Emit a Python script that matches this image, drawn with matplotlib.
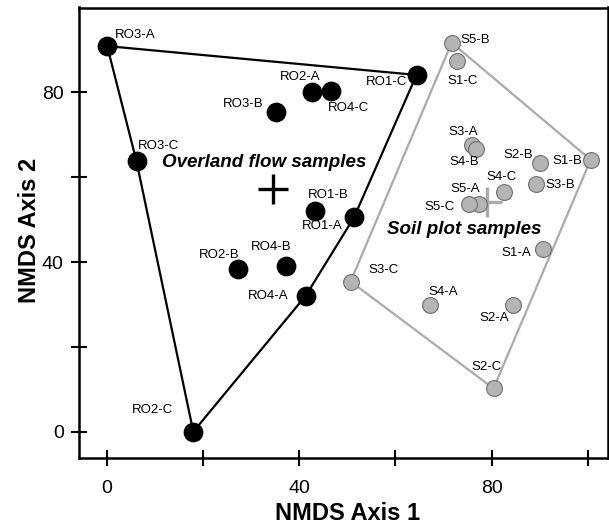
import matplotlib
matplotlib.use("Agg")
import matplotlib.pyplot as plt

plt.rcParams['font.family'] = ['Liberation Sans', 'DejaVu Sans']

# overland flow samples (black)
ro_labels = ["RO3-A", "RO2-A", "RO4-C", "RO3-B", "RO1-C", "RO3-C",
             "RO1-B", "RO1-A", "RO2-B", "RO4-B", "RO4-A", "RO2-C"]
ro_x = [0.1, 42.7, 46.6, 35.1, 64.4, 6.2, 43.3, 51.4, 27.2, 37.2, 41.4, 18.0]
ro_y = [90.9, 80.0, 80.4, 75.3, 84.1, 63.7, 52.1, 50.5, 38.4, 39.1, 32.1, 0.0]
ro_hull = ["RO3-A", "RO1-C", "RO1-A", "RO4-A", "RO2-C", "RO3-C", "RO3-A"]
ro_centroid = (34.5, 57.2)

# soil plot samples (grey)
s_labels = ["S5-B", "S1-C", "S3-A", "S4-B", "S2-B", "S1-B", "S3-B", "S4-C",
            "S5-A", "S5-C", "S1-A", "S3-C", "S4-A", "S2-A", "S2-C"]
s_x = [71.7, 72.8, 76.0, 76.7, 90.1, 100.6, 89.3, 82.6, 77.3, 75.4, 90.6,
       50.7, 67.2, 84.5, 80.4]
s_y = [91.7, 87.3, 67.5, 66.7, 63.3, 64.1, 58.4, 56.6, 53.7, 53.7, 43.0,
       35.4, 29.9, 29.9, 10.2]
s_hull = ["S5-B", "S1-B", "S2-C", "S3-C", "S5-B"]
s_centroid = (79.0, 54.2)

# label placement: offset in pixels + horizontal alignment
label_pos = {
    "RO3-A": (8, 11, "left"), "RO2-A": (-12, 15.6, "center"),
    "RO4-C": (17.5, -17.3, "center"), "RO3-B": (-12.4, 8.3, "right"),
    "RO1-C": (-9, -6.7, "right"), "RO3-C": (1.6, 15, "left"),
    "RO1-B": (13.7, 15.7, "center"), "RO1-A": (-11.7, -9, "right"),
    "RO2-B": (2, 13.7, "right"), "RO4-B": (-14.7, 19.3, "center"),
    "RO4-A": (-17, 0, "right"), "RO2-C": (-20, 21.7, "right"),
    "S5-B": (9, 2.7, "left"), "S1-C": (5.6, -20, "center"),
    "S3-A": (-9, 13, "center"), "S4-B": (-11.4, -13.7, "center"),
    "S2-B": (-6.7, 8.3, "right"), "S1-B": (-9, -1, "right"),
    "S3-B": (9, -1, "left"), "S4-C": (-2.3, 15, "center"),
    "S5-A": (-13, 15, "center"), "S5-C": (-14.3, -3.3, "right"),
    "S1-A": (-11, -4, "right"), "S3-C": (17.6, 11.7, "left"),
    "S4-A": (13.3, 12.7, "center"), "S2-A": (-4.3, -12.7, "right"),
    "S2-C": (-6.6, 21.7, "center"),
}

fig = plt.figure(figsize=(6.09, 5.26), dpi=100)
ax = fig.add_axes([79 / 609, 1 - 458.3 / 526, 529 / 609, 450.8 / 526])

# hulls
hx = [ro_x[ro_labels.index(l)] for l in ro_hull]
hy = [ro_y[ro_labels.index(l)] for l in ro_hull]
ax.plot(hx, hy, color='black', lw=1.6, zorder=2)
gx = [s_x[s_labels.index(l)] for l in s_hull]
gy = [s_y[s_labels.index(l)] for l in s_hull]
ax.plot(gx, gy, color='#aaaaaa', lw=1.6, zorder=2)

# centroids
ax.plot(*ro_centroid, marker='+', ms=21, mew=2.4, color='black', zorder=3)
ax.plot(*s_centroid, marker='+', ms=21, mew=2.4, color='#aaaaaa', zorder=3)

ax.scatter(ro_x, ro_y, s=175, color='black', zorder=4)
ax.scatter(s_x, s_y, s=130, facecolor='#b4b4b4', edgecolor='#6e6e6e',
           linewidth=0.8, zorder=4)

for lab, x, y in list(zip(ro_labels, ro_x, ro_y)) + list(zip(s_labels, s_x, s_y)):
    dx, dy, ha = label_pos[lab]
    ax.annotate(lab, (x, y), xytext=(dx, dy), textcoords='offset pixels',
                ha=ha, va='center', fontsize=9.5, zorder=5)

ax.text(32.7, 63.5, "Overland flow samples", fontsize=13.5, fontweight='bold',
        fontstyle='italic', ha='center', va='center')
ax.text(74.3, 47.6, "Soil plot samples", fontsize=13.5, fontweight='bold',
        fontstyle='italic', ha='center', va='center')

ax.set_xlim(-5.76, 104.2)
ax.set_ylim(-6.27, 100.0)
ax.set_xticks([0, 40, 80])
ax.set_xticks([20, 60, 100], minor=True)
ax.set_yticks([0, 40, 80])
ax.set_yticks([20, 60], minor=True)
ax.tick_params(which='both', direction='inout', length=12, width=1.5,
               labelsize=14)
ax.tick_params(axis='x', pad=9.5)
ax.tick_params(axis='y', pad=5)
for sp in ax.spines.values():
    sp.set_linewidth(1.8)

fig.text(348 / 609, 1 - 514 / 526, "NMDS Axis 1", fontsize=17,
         fontweight='bold', ha='center', va='center')
fig.text(30 / 609, 1 - 230 / 526, "NMDS Axis 2", fontsize=17,
         fontweight='bold', ha='center', va='center', rotation=90)

fig.savefig("out.png", dpi=100)
